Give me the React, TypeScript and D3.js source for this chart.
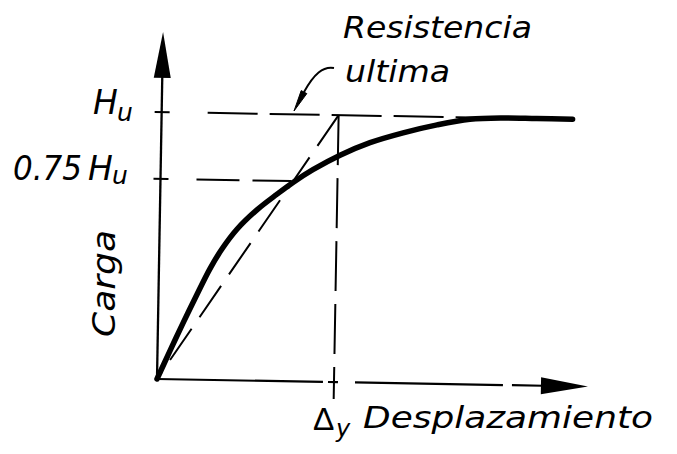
import React from 'react';
import * as d3 from 'd3';

// Load–displacement curve (displacement in units of Δy, load in units of Hu)
const displacement = [0, 0.071, 0.142, 0.218, 0.288, 0.354, 0.437, 0.548, 0.66, 0.749, 0.86, 1.012, 1.18, 1.366, 1.557, 1.742, 1.929, 2.119, 2.322];
const load = [0, 0.107, 0.212, 0.32, 0.416, 0.491, 0.566, 0.64, 0.7, 0.745, 0.794, 0.85, 0.899, 0.938, 0.97, 0.993, 1, 1, 1];

const ultimateLoad = 1; // Hu
const serviceFraction = 0.75; // 0.75 Hu
const yieldDisplacement = 1; // Δy
const xAxisMax = 2.435;
const yAxisMax = 1.3;

const annotationLines = ['Resistencia', 'ultima'];
const yAxisTitle = 'Carga';
const xAxisTitle = 'Desplazamiento';

export default function App() {
  const W = 677;
  const H = 454;
  const x = d3.scaleLinear().domain([0, 1]).range([0, 177]);
  const y = d3.scaleLinear().domain([0, 1]).range([0, -267]);

  const pts: [number, number][] = displacement.map((d, i) => [d, load[i]]);
  const curve = d3
    .line<[number, number]>()
    .x((d) => x(d[0]))
    .y((d) => y(d[1]))
    .curve(d3.curveCatmullRom.alpha(0.5))(pts) as string;

  const font = "'DejaVu Sans', 'Liberation Sans', sans-serif";
  const huY = y(ultimateLoad);
  const svcY = y(serviceFraction * ultimateLoad);
  const dyX = x(yieldDisplacement);
  const xEnd = x(xAxisMax);
  const yEnd = y(yAxisMax);

  return (
    <svg
      width={W}
      height={H}
      viewBox={`0 0 ${W} ${H}`}
      style={{ position: 'absolute', left: 0, top: 0, background: '#fff' }}
    >
      <rect width={W} height={H} fill="#fff" />
      <g transform="translate(157,379) rotate(1)" stroke="#000" fill="none">
        {/* y axis */}
        <line x1={0} y1={0} x2={0} y2={yEnd + 44} strokeWidth={2.3} />
        <path d={`M0,${yEnd} L-8.5,${yEnd + 46} L8.5,${yEnd + 46} Z`} fill="#000" stroke="none" />
        {/* x axis (with the breaks of the original drawing) */}
        <line x1={0} y1={0} x2={xEnd - 44} y2={0} strokeWidth={2.2} strokeDasharray="166 5 10 17 148 9 31" />
        <path d={`M${xEnd},0 L${xEnd - 47},-8.5 L${xEnd - 47},8.5 Z`} fill="#000" stroke="none" />

        {/* Hu level */}
        <line x1={-7} y1={huY} x2={x(1.87)} y2={huY} strokeWidth={2} strokeDasharray="15 38 50 12 50 12 50 12 50 12 50 12" />
        {/* 0.75 Hu level */}
        <line x1={-7} y1={svcY} x2={x(0.74)} y2={svcY} strokeWidth={2} strokeDasharray="15 28 43 13 43 13 43 13" />
        {/* Δy vertical */}
        <line x1={dyX} y1={huY} x2={dyX} y2={17} strokeWidth={2} strokeDasharray="50 13" />
        {/* secant */}
        <line
          x1={0}
          y1={0}
          x2={dyX}
          y2={huY}
          strokeWidth={2}
          strokeDasharray="38 14"
          strokeDashoffset={29}
        />
        {/* load-displacement curve */}
        <path d={curve} strokeWidth={5.5} strokeLinecap="round" strokeLinejoin="round" />
      </g>

      {/* leader arrow to ultimate strength */}
      <path d="M334,68 C323,66 314,74 304,92" fill="none" stroke="#000" strokeWidth={2} />
      <path d="M294,111 L306.8,93.6 L301.2,90.6 Z" fill="#000" stroke="#000" strokeWidth={1} />

      <g fill="#000" fontFamily={font} fontStyle="italic">
        <text x={343} y={38} fontSize={31} textLength={189} lengthAdjust="spacingAndGlyphs">
          {annotationLines[0]}
        </text>
        <text x={345} y={82} fontSize={31} textLength={105} lengthAdjust="spacingAndGlyphs">
          {annotationLines[1]}
        </text>

        <text x={93} y={114} fontSize={33}>H</text>
        <text x={117} y={121} fontSize={25}>u</text>

        <text x={13} y={180} fontSize={33} textLength={69} lengthAdjust="spacingAndGlyphs">0.75</text>
        <text x={88} y={180} fontSize={33}>H</text>
        <text x={112} y={184} fontSize={25}>u</text>

        <text
          transform="translate(115,337) rotate(-90)"
          fontSize={32}
          textLength={107}
          lengthAdjust="spacingAndGlyphs"
        >
          {yAxisTitle}
        </text>

        <text x={313} y={430} fontSize={32} fontStyle="normal" fontFamily="'Liberation Sans', 'DejaVu Sans', sans-serif">Δ</text>
        <text x={336} y={437} fontSize={24}>y</text>
        <text x={363} y={428} fontSize={31} textLength={290} lengthAdjust="spacingAndGlyphs">
          {xAxisTitle}
        </text>
      </g>
    </svg>
  );
}
